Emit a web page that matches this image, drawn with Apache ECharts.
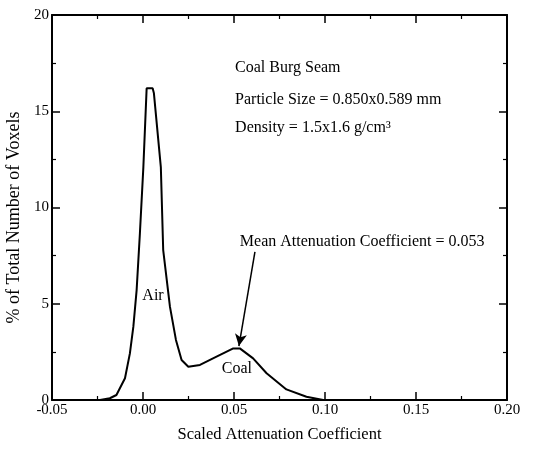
<!DOCTYPE html>
<html><head><meta charset="utf-8">
<script src="https://cdn.jsdelivr.net/npm/echarts@6/dist/echarts.min.js"></script>
<style>html,body{margin:0;padding:0;background:#fff}#c{width:550px;height:450px}</style>
</head><body><div id="c"></div>
<script>
// Data
const xValues = [-0.05, -0.0236, -0.0182, -0.0146, -0.0099, -0.0072, -0.0053, -0.0035, -0.0017, 0.0002, 0.0020, 0.0053, 0.0060, 0.0098, 0.0111, 0.0148, 0.0181, 0.0212, 0.0249, 0.0313, 0.0404, 0.0496, 0.0532, 0.0605, 0.0679, 0.0788, 0.0898, 0.0990, 0.11];
const yValues = [0, 0, 0.09, 0.26, 1.13, 2.42, 3.81, 5.71, 8.66, 12.1, 16.19, 16.19, 15.93, 12.1, 7.79, 4.85, 3.12, 2.08, 1.73, 1.82, 2.25, 2.68, 2.68, 2.16, 1.39, 0.55, 0.17, 0, 0];
const xTickLabels = ['-0.05', '0.00', '0.05', '0.10', '0.15', '0.20'];
const yTickLabels = ['0', '5', '10', '15', '20'];
const infoLines = ['Coal Burg Seam', 'Particle Size = 0.850x0.589 mm', 'Density = 1.5x1.6 g/cm³'];
const infoCoords = [[0.0506, 17.25], [0.0506, 15.58], [0.0506, 14.13]];
const meanText = 'Mean Attenuation Coefficient = 0.053';
const meanTextCoord = [0.0532, 8.21];
const arrowFrom = [0.0615, 7.69];
const arrowTo = [0.0527, 2.80];
const regionLabels = ['Air', 'Coal'];
const regionCoords = [[0.0055, 5.4], [0.0516, 1.61]];

const FONT = '"Liberation Serif", "DejaVu Serif", serif';
const chart = echarts.init(document.getElementById('c'));
const xLabelMap = {};
xTickLabels.forEach(s => { xLabelMap[parseFloat(s).toFixed(2)] = s; });

const axisCommon = {
  axisLine: { show: true, onZero: false, lineStyle: { color: '#000', width: 2 } },
  axisTick: { show: true, inside: true, length: 8, lineStyle: { color: '#000', width: 1.5 } },
  minorTick: { show: true, splitNumber: 2, length: 4, lineStyle: { color: '#000', width: 1.2 } },
  splitLine: { show: false }
};

const textPoints = [];
infoLines.forEach((t, i) => textPoints.push({ name: t, coord: infoCoords[i], label: { position: 'right', distance: 0 } }));
textPoints.push({ name: meanText, coord: meanTextCoord, label: { position: 'right', distance: 0 } });
regionLabels.forEach((t, i) => textPoints.push({ name: t, coord: regionCoords[i], label: { position: 'inside' } }));

chart.setOption({
  animation: false,
  backgroundColor: '#fff',
  grid: { left: 52, right: 43, top: 15, bottom: 50, containLabel: false, outerBoundsMode: 'none' },
  xAxis: [
    Object.assign({
      type: 'value', min: -0.05, max: 0.2, interval: 0.05, position: 'bottom',
      name: 'Scaled Attenuation Coefficient', nameLocation: 'middle', nameGap: 26,
      nameTextStyle: { fontFamily: FONT, fontSize: 16.5, color: '#000' },
      axisLabel: { fontFamily: FONT, fontSize: 15, color: '#000', margin: 3,
        formatter: v => xLabelMap[v.toFixed(2)] || v.toFixed(2) }
    }, axisCommon),
    Object.assign({ type: 'value', min: -0.05, max: 0.2, interval: 0.05, position: 'top', axisLabel: { show: false } }, axisCommon)
  ],
  yAxis: [
    Object.assign({
      type: 'value', min: 0, max: 20, interval: 5, position: 'left',
      name: '% of Total Number of Voxels', nameLocation: 'middle', nameGap: 20, nameRotate: 90,
      nameTextStyle: { fontFamily: FONT, fontSize: 18, color: '#000', padding: [0, 20, 0, 0] },
      axisLabel: { fontFamily: FONT, fontSize: 15, color: '#000', margin: 3,
        formatter: v => yTickLabels[Math.round(v / 5)] }
    }, axisCommon),
    Object.assign({ type: 'value', min: 0, max: 20, interval: 5, position: 'right', axisLabel: { show: false } }, axisCommon)
  ],
  series: [{
    type: 'line',
    data: xValues.map((x, i) => [x, yValues[i]]),
    showSymbol: false,
    symbol: 'none',
    lineStyle: { color: '#000', width: 2 },
    markPoint: {
      symbol: 'circle', symbolSize: 0, silent: true,
      label: { show: true, formatter: p => p.name, fontFamily: FONT, fontSize: 16, color: '#000' },
      data: textPoints
    },
    markLine: {
      silent: true, symbol: ['none', 'arrow'], symbolSize: [9, 12],
      lineStyle: { color: '#000', width: 1.5, type: 'solid' },
      label: { show: false },
      data: [[{ coord: arrowFrom }, { coord: arrowTo }]]
    }
  }]
});
</script></body></html>
